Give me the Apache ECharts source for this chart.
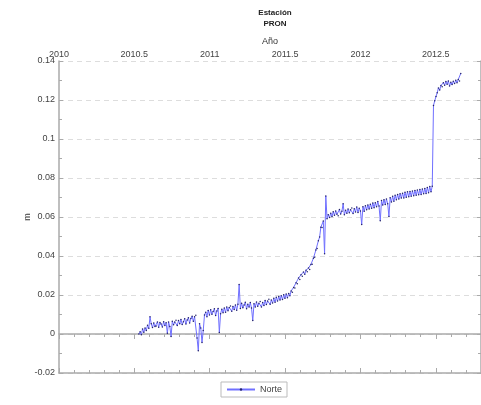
<!DOCTYPE html>
<html>
<head>
<meta charset="utf-8">
<script src="https://cdn.jsdelivr.net/npm/echarts@6/dist/echarts.min.js"></script>
<style>
  html, body { margin: 0; padding: 0; background: #fff; }
  #chart { width: 481px; height: 405px; }
</style>
</head>
<body>
<div id="chart"></div>
<script>
// GPS station PRON, north component (metres), one sample every 3 days
const stationName = 'PRON';
const seriesName = 'Norte';
const firstEpoch = 2010.53;   // decimal year of the first sample
const dayStep = 3;            // days between samples

const norte = [
  0.0000, 0.0011, -0.0004, 0.0026, 0.0009, 0.0031, 0.0018, 0.0045, 0.0029, 0.0088,
  0.0052, 0.0033, 0.0057, 0.0038, 0.0041, 0.0062, 0.0035, 0.0059, 0.0051, 0.0036,
  0.0063, 0.0044, 0.0058, 0.0004, 0.0061, 0.0039, -0.0013, 0.0066, 0.0047, 0.0062,
  0.0071, 0.0043, 0.0069, 0.0052, 0.0074, 0.0049, 0.0063, 0.0078, 0.0051, 0.0072,
  0.0083, 0.0057, 0.0079, 0.0091, 0.0065, 0.0088, 0.0096, -0.0021, -0.0086, 0.0052,
  0.0031, -0.0043, 0.0018, 0.0097, 0.0112, 0.0089, 0.0121, 0.0098, 0.0124, 0.0101,
  0.0116, 0.0129, 0.0095, 0.0118, 0.0131, 0.0008, 0.0104, 0.0127, 0.0109, 0.0133,
  0.0112, 0.0138, 0.0119, 0.0136, 0.0144, 0.0117, 0.0141, 0.0126, 0.0149, 0.0122,
  0.0153, 0.0254, 0.0131, 0.0158, 0.0134, 0.0149, 0.0163, 0.0129, 0.0152, 0.0138,
  0.0161, 0.0133, 0.0069, 0.0155, 0.0139, 0.0164, 0.0142, 0.0158, 0.0167, 0.0139,
  0.0161, 0.0146, 0.0172, 0.0151, 0.0169, 0.0178, 0.0152, 0.0174, 0.0159, 0.0183,
  0.0163, 0.0188, 0.0169, 0.0192, 0.0174, 0.0196, 0.0177, 0.0201, 0.0183, 0.0205,
  0.0186, 0.0208, 0.0196, 0.0221, 0.0214, 0.0239, 0.0236, 0.0263, 0.0258, 0.0287,
  0.0279, 0.0304, 0.0296, 0.0318, 0.0306, 0.0327, 0.0319, 0.0338, 0.0331, 0.0357,
  0.0358, 0.0389, 0.0394, 0.0431, 0.0438, 0.0478, 0.0497, 0.0548, 0.0546, 0.0579,
  0.0412, 0.0708, 0.0591, 0.0612, 0.0597, 0.0619, 0.0603, 0.0627, 0.0609, 0.0631,
  0.0614, 0.0606, 0.0638, 0.0615, 0.0629, 0.0668, 0.0611, 0.0634, 0.0619, 0.0641,
  0.0622, 0.0637, 0.0646, 0.0618, 0.0642, 0.0626, 0.0651, 0.0623, 0.0645, 0.0631,
  0.0562, 0.0653, 0.0629, 0.0658, 0.0637, 0.0662, 0.0641, 0.0666, 0.0645, 0.0672,
  0.0648, 0.0673, 0.0652, 0.0679, 0.0656, 0.0581, 0.0684, 0.0661, 0.0689, 0.0664,
  0.0692, 0.0668, 0.0603, 0.0699, 0.0677, 0.0706, 0.0681, 0.0711, 0.0689, 0.0716,
  0.0692, 0.0719, 0.0697, 0.0722, 0.0698, 0.0727, 0.0701, 0.0729, 0.0704, 0.0731,
  0.0707, 0.0733, 0.0709, 0.0736, 0.0712, 0.0738, 0.0714, 0.0741, 0.0716, 0.0743,
  0.0719, 0.0746, 0.0721, 0.0751, 0.0725, 0.0756, 0.0729, 0.0758, 0.1172, 0.1196,
  0.1218, 0.1237, 0.1262, 0.1251, 0.1274, 0.1268, 0.1289, 0.1276, 0.1295, 0.1281,
  0.1298, 0.1272, 0.1291, 0.1279, 0.1296, 0.1284, 0.1301, 0.1289, 0.1305, 0.1297,
  0.1336
];

const xMin = 2010, xMax = 2012.8, xMajor = 0.5, xMinor = 0.1;
const yMin = -0.02, yMax = 0.14, yMajor = 0.02;

const points = norte.map((v, i) => [firstEpoch + i * dayStep / 365.25, v]);

const font = 'Liberation Sans, Arial, sans-serif';
const axisGrey = '#aaaaaa';
const labelStyle = { color: '#444', fontSize: 9, fontFamily: font };

function xAxisPair(position, withLabels) {
  return [
    {
      type: 'value', position: position, min: xMin, max: xMax, interval: xMajor,
      name: withLabels ? 'Año' : '', nameLocation: 'middle', nameGap: 15,
      nameMoveOverlap: false,
      nameTextStyle: { color: '#333', fontSize: 9, fontFamily: font },
      axisLine: { show: true, lineStyle: { color: axisGrey, width: 1.5 } },
      axisTick: { show: true, inside: true, length: 5, lineStyle: { color: axisGrey } },
      axisLabel: {
        show: withLabels, margin: 2, showMaxLabel: false,
        formatter: v => String(Math.round(v * 10) / 10), ...labelStyle
      },
      splitLine: { show: false }
    },
    {
      type: 'value', position: position, min: xMin, max: xMax, interval: xMinor,
      axisLine: { show: false },
      axisTick: { show: true, inside: true, length: 3, lineStyle: { color: axisGrey } },
      axisLabel: { show: false },
      splitLine: { show: false }
    }
  ];
}

const chart = echarts.init(document.getElementById('chart'), null, { renderer: 'canvas' });
chart.setOption({
  animation: false,
  backgroundColor: '#fff',
  title: {
    text: 'Estación\n' + stationName,
    left: 270, top: 2, textAlign: 'center',
    textStyle: { fontSize: 8, fontWeight: 'bold', color: '#222', fontFamily: font, lineHeight: 11 }
  },
  legend: {
    data: [seriesName],
    left: 221, top: 382,
    padding: [3, 5, 3, 5],
    itemWidth: 28, itemHeight: 3, itemGap: 4,
    borderColor: '#bbbbbb', borderWidth: 1,
    textStyle: { color: '#444', fontSize: 9, fontFamily: font }
  },
  grid: { left: 59, top: 61, width: 423, height: 312 },
  xAxis: [...xAxisPair('top', true), ...xAxisPair('bottom', false)],
  yAxis: [
    {
      type: 'value', position: 'left', min: yMin, max: yMax, interval: yMajor,
      name: 'm', nameLocation: 'middle', nameGap: 27, nameRotate: 90,
      nameMoveOverlap: false,
      nameTextStyle: { color: '#333', fontSize: 9, fontFamily: font },
      axisLine: { show: true, lineStyle: { color: axisGrey, width: 1.5 } },
      axisTick: { show: true, inside: true, length: 4, lineStyle: { color: axisGrey } },
      minorTick: { show: true, splitNumber: 2, length: 3, lineStyle: { color: axisGrey } },
      axisLabel: { margin: 4, ...labelStyle },
      splitLine: { show: true, lineStyle: { color: '#dddddd', type: [5, 4], width: 1 } }
    },
    {
      type: 'value', position: 'right', min: yMin, max: yMax, interval: yMajor,
      axisLine: { show: true, lineStyle: { color: axisGrey, width: 1.5 } },
      axisTick: { show: true, inside: true, length: 4, lineStyle: { color: axisGrey } },
      minorTick: { show: true, splitNumber: 2, length: 3, lineStyle: { color: axisGrey } },
      axisLabel: { show: false },
      splitLine: { show: false }
    }
  ],
  series: [{
    name: seriesName,
    type: 'line',
    xAxisIndex: 0, yAxisIndex: 0,
    data: points,
    showSymbol: true,
    symbol: 'circle', symbolSize: 1.5,
    lineStyle: { color: '#7070ff', width: 1 },
    itemStyle: { color: '#25256a' },
    emphasis: { disabled: true }
  }]
});
</script>
</body>
</html>
